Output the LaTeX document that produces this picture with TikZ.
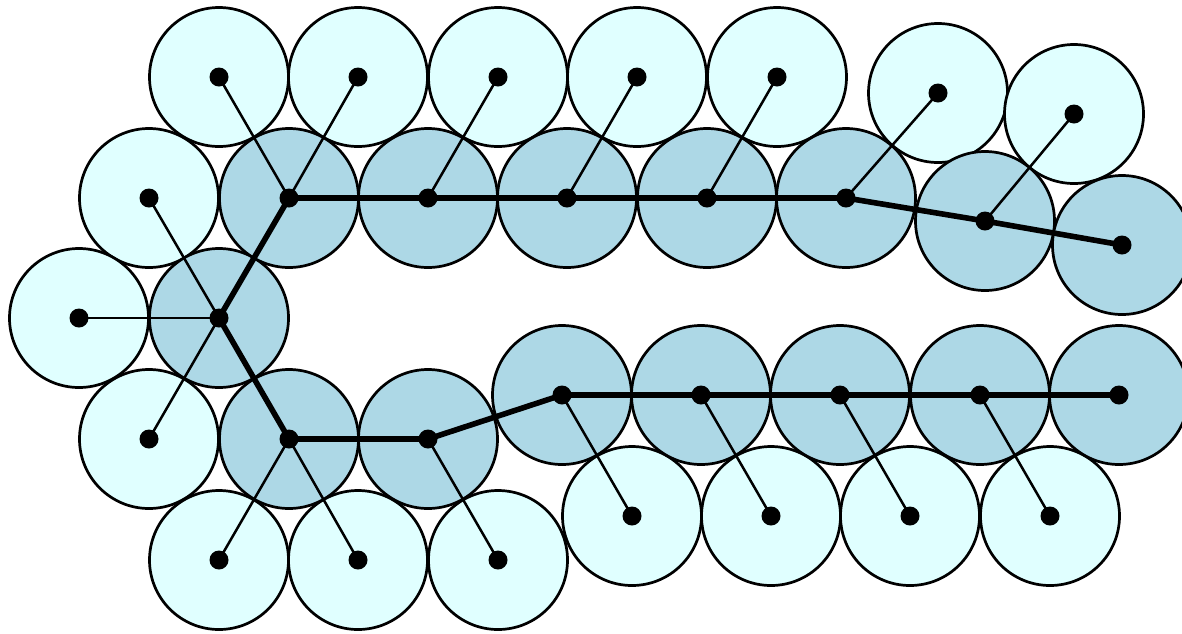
\documentclass[tikz,border=0pt]{standalone}
\definecolor{darkfill}{RGB}{173,216,230}
\definecolor{lightfill}{RGB}{224,255,255}
\begin{document}
\begin{tikzpicture}[x=1pt,y=-1pt,
  ball/.style={circle,draw=black,line width=2.7pt,minimum size=139pt,inner sep=0pt},
  dark/.style={ball,fill=darkfill},
  light/.style={ball,fill=lightfill},
  dot/.style={circle,fill=black,minimum size=19pt,inner sep=0pt},
  twig/.style={draw=black,line width=2.5pt},
  spine/.style={draw=black,line width=5.6pt,line join=round}]
\useasboundingbox (0,0) rectangle (1182,633);
% light circles
\node[light] (l1) at (219,77) {};
\node[light] (l2) at (358,77) {};
\node[light] (l3) at (498,77) {};
\node[light] (l4) at (637,77) {};
\node[light] (l5) at (777,77) {};
\node[light] (l6) at (938,93) {};
\node[light] (l7) at (1074,114) {};
\node[light] (l8) at (149,198) {};
\node[light] (l9) at (79,318) {};
\node[light] (l10) at (149,439) {};
\node[light] (l11) at (219,560) {};
\node[light] (l12) at (358,560) {};
\node[light] (l13) at (498,560) {};
\node[light] (l14) at (632,516) {};
\node[light] (l15) at (771,516) {};
\node[light] (l16) at (910,516) {};
\node[light] (l17) at (1050,516) {};
% dark circles
\node[dark] (d1) at (219,318) {};
\node[dark] (d2) at (289,198) {};
\node[dark] (d3) at (428,198) {};
\node[dark] (d4) at (567,198) {};
\node[dark] (d5) at (707,198) {};
\node[dark] (d6) at (846,198) {};
\node[dark] (d7) at (985,221) {};
\node[dark] (d8) at (1122,245) {};
\node[dark] (d9) at (289,439) {};
\node[dark] (d10) at (428,439) {};
\node[dark] (d11) at (562,395) {};
\node[dark] (d12) at (701,395) {};
\node[dark] (d13) at (840,395) {};
\node[dark] (d14) at (980,395) {};
\node[dark] (d15) at (1119,395) {};
% thin connectors
\draw[twig] (l1.center) -- (d2.center);
\draw[twig] (l2.center) -- (d2.center);
\draw[twig] (l3.center) -- (d3.center);
\draw[twig] (l4.center) -- (d4.center);
\draw[twig] (l5.center) -- (d5.center);
\draw[twig] (l6.center) -- (d6.center);
\draw[twig] (l7.center) -- (d7.center);
\draw[twig] (l8.center) -- (d1.center);
\draw[twig] (l9.center) -- (d1.center);
\draw[twig] (l10.center) -- (d1.center);
\draw[twig] (l11.center) -- (d9.center);
\draw[twig] (l12.center) -- (d9.center);
\draw[twig] (l13.center) -- (d10.center);
\draw[twig] (l14.center) -- (d11.center);
\draw[twig] (l15.center) -- (d12.center);
\draw[twig] (l16.center) -- (d13.center);
\draw[twig] (l17.center) -- (d14.center);
% thick spine
\draw[spine] (d8.center) -- (d7.center) -- (d6.center) -- (d5.center) -- (d4.center)
  -- (d3.center) -- (d2.center) -- (d1.center) -- (d9.center) -- (d10.center)
  -- (d11.center) -- (d12.center) -- (d13.center) -- (d14.center) -- (d15.center);
% dots
\foreach \n in {l1,l2,l3,l4,l5,l6,l7,l8,l9,l10,l11,l12,l13,l14,l15,l16,l17,
  d1,d2,d3,d4,d5,d6,d7,d8,d9,d10,d11,d12,d13,d14,d15}
  \node[dot] (p\n) at (\n.center) {};
\end{tikzpicture}
\end{document}
